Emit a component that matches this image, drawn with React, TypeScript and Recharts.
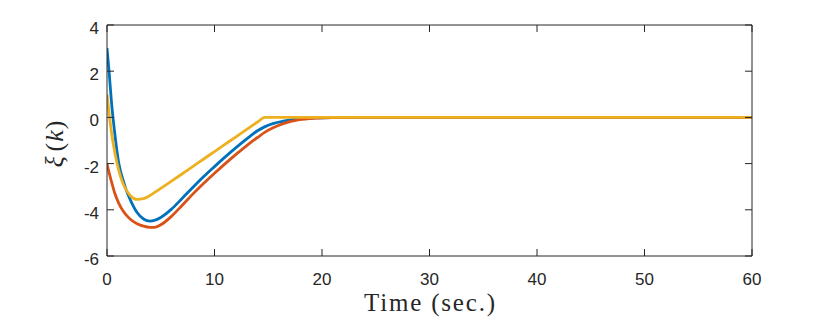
import { LineChart, Line, XAxis, YAxis, Label } from 'recharts';

const time = [0, 0.2, 0.4, 0.7, 1.1, 1.5, 1.8, 2.2, 2.8, 3.4, 4, 4.4, 5, 6, 7, 8, 9, 10, 11, 12, 13, 14, 14.7, 15.5, 16.4, 17.9, 19.4, 21, 23, 30, 40, 50, 60];
const xiBlue = [3, 1.95, 0.75, -0.6, -2.0, -2.72, -3.16, -3.6, -4.12, -4.4, -4.49, -4.46, -4.33, -3.97, -3.5, -3.02, -2.56, -2.13, -1.71, -1.31, -0.93, -0.58, -0.4, -0.26, -0.16, -0.05, -0.02, -0.005, 0, 0, 0, 0, 0];
const xiRed = [-2, -2.4, -2.75, -3.25, -3.72, -4.05, -4.23, -4.42, -4.6, -4.71, -4.76, -4.76, -4.65, -4.28, -3.8, -3.31, -2.85, -2.42, -2.0, -1.6, -1.22, -0.87, -0.64, -0.44, -0.27, -0.1, -0.035, -0.01, 0, 0, 0, 0, 0];
const xiYellow = [1, 0.15, -0.6, -1.45, -2.3, -2.87, -3.15, -3.4, -3.55, -3.52, -3.38, -3.26, -3.07, -2.76, -2.44, -2.12, -1.8, -1.48, -1.16, -0.84, -0.52, -0.2, 0, 0, 0, 0, 0, 0, 0, 0, 0, 0, 0];

const xTicks = [0, 10, 20, 30, 40, 50, 60];
const yTicks = [-6, -4, -2, 0, 2, 4];

const data = time.map((t, i) => ({ t, blue: xiBlue[i], red: xiRed[i], yellow: xiYellow[i] }));

const ink = '#262626';
const tickLen = 7;
const sans = '"Liberation Sans", Arial, Helvetica, sans-serif';
const serif = '"Liberation Serif", "Times New Roman", serif';

const BottomTick = (p: any) => (
  <g>
    <line x1={p.x} y1={p.y} x2={p.x} y2={p.y - tickLen} stroke={ink} />
    <text x={p.x} y={p.y + 29} textAnchor="middle" fontFamily={sans} fontSize={17} fill={ink}>
      {p.payload.value}
    </text>
  </g>
);

const LeftTick = (p: any) => (
  <g>
    <line x1={p.x} y1={p.y} x2={p.x + tickLen} y2={p.y} stroke={ink} />
    <text x={p.x - 8} y={p.y + 3} dy="0.355em" textAnchor="end" fontFamily={sans} fontSize={17} fill={ink}>
      {p.payload.value}
    </text>
  </g>
);

const TopTick = (p: any) => <line x1={p.x} y1={p.y} x2={p.x} y2={p.y + tickLen} stroke={ink} />;
const RightTick = (p: any) => <line x1={p.x} y1={p.y} x2={p.x - tickLen} y2={p.y} stroke={ink} />;

const XLabel = (p: any) => {
  const vb = p.viewBox;
  return (
    <text x={vb.x + vb.width / 2} y={vb.y + 55} textAnchor="middle" fontFamily={serif} fontSize={25} fill={ink}
      textLength={131} lengthAdjust="spacing">
      Time (sec.)
    </text>
  );
};

const YLabel = () => (
  <text x={63} y={144} transform="rotate(-90, 63, 144)" textAnchor="middle" fontFamily={serif} fontSize={26} fill={ink}>
    <tspan fontStyle="italic">ξ</tspan>
    <tspan dx={5}>(</tspan>
    <tspan fontStyle="italic" dx={1}>k</tspan>
    <tspan dx={1}>)</tspan>
  </text>
);

export default function App() {
  return (
    <div style={{ position: 'absolute', left: 0, top: 0 }}>
      <LineChart width={830} height={325} data={data} margin={{ top: 24, right: 77, left: 0, bottom: 0 }}>
        <XAxis dataKey="t" type="number" domain={[0, 60]} ticks={xTicks} allowDataOverflow height={69}
          axisLine={{ stroke: ink }} tickLine={false} tickSize={0} tickMargin={0} tick={BottomTick}>
          <Label content={XLabel} />
        </XAxis>
        <XAxis xAxisId="top" orientation="top" dataKey="t" type="number" domain={[0, 60]} ticks={xTicks} allowDataOverflow height={1}
          axisLine={{ stroke: ink }} tickLine={false} tickSize={0} tickMargin={0} tick={TopTick} />
        <YAxis type="number" domain={[-6, 4]} ticks={yTicks} allowDataOverflow width={107}
          axisLine={{ stroke: ink }} tickLine={false} tickSize={0} tickMargin={0} tick={LeftTick}>
          <Label content={YLabel} />
        </YAxis>
        <YAxis yAxisId="right" orientation="right" type="number" domain={[-6, 4]} ticks={yTicks} allowDataOverflow width={1}
          axisLine={{ stroke: ink }} tickLine={false} tickSize={0} tickMargin={0} tick={RightTick} />
        <Line type="monotone" dataKey="blue" stroke="#0072BD" strokeWidth={2.8} dot={false} isAnimationActive={false} />
        <Line type="monotone" dataKey="red" stroke="#D95319" strokeWidth={2.8} dot={false} isAnimationActive={false} />
        <Line type="monotone" dataKey="yellow" xAxisId="top" yAxisId="right" stroke="#EDB120" strokeWidth={2.8} dot={false} isAnimationActive={false} />
      </LineChart>
    </div>
  );
}
